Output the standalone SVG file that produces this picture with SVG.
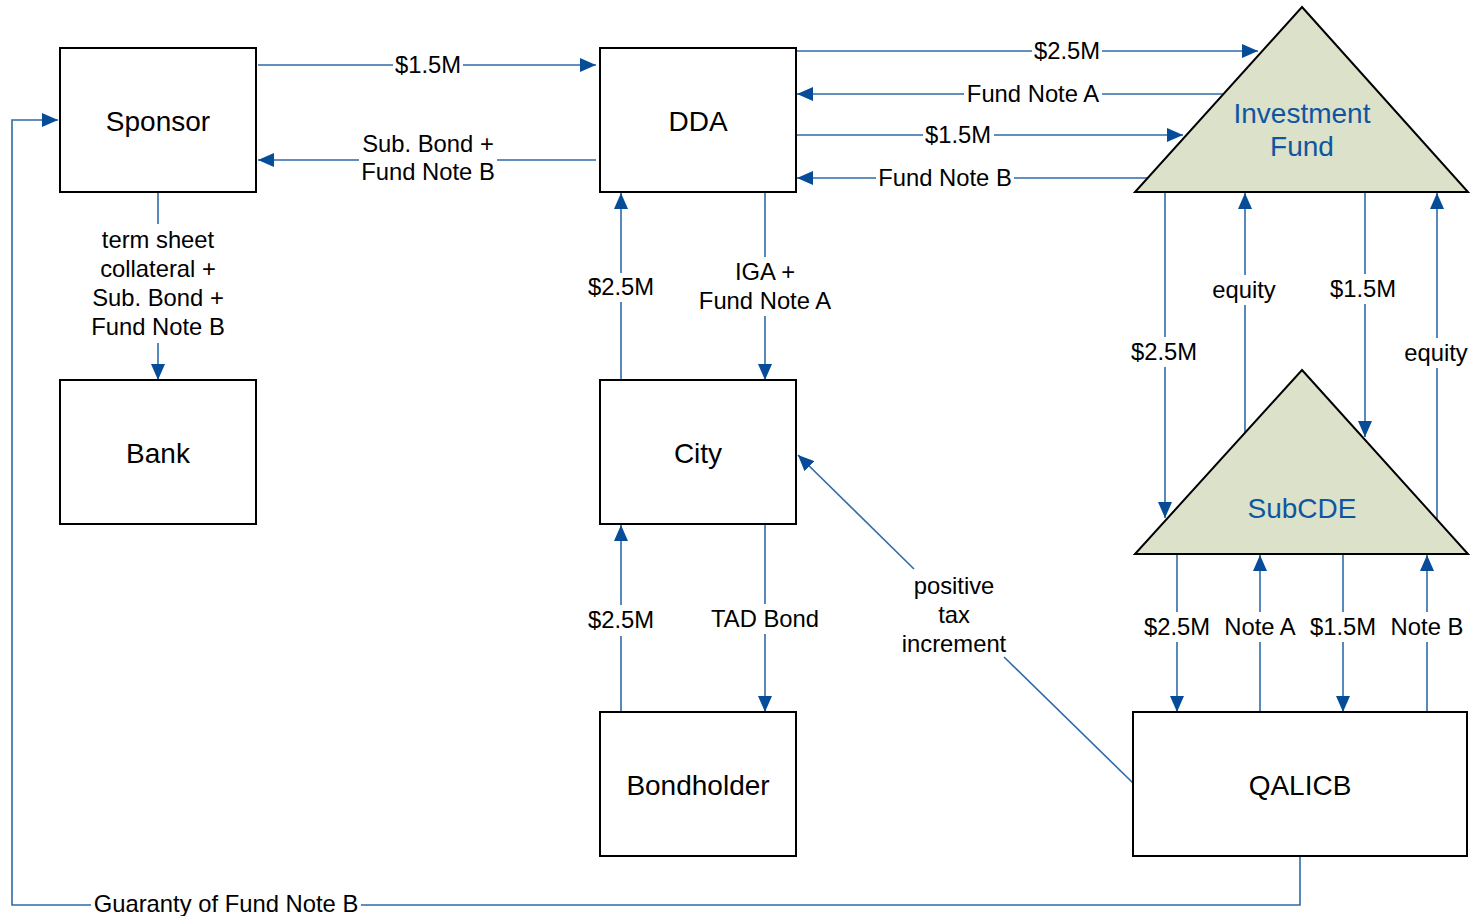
<svg xmlns="http://www.w3.org/2000/svg" width="1476" height="916" viewBox="0 0 1476 916">
<defs>
<style>
.box{fill:#fff;stroke:#000;stroke-width:2}
.tri{fill:#dce1ca;stroke:#000;stroke-width:2;stroke-linejoin:miter}
.nt{font-family:"Liberation Sans",Arial,sans-serif;font-size:28px;fill:#000;text-anchor:middle}
.tt{font-family:"Liberation Sans",Arial,sans-serif;font-size:28px;fill:#0f56a0;text-anchor:middle}
.lb{font-family:"Liberation Sans",Arial,sans-serif;font-size:23.8px;fill:#000;text-anchor:middle}
.c{fill:none;stroke:#2f6aa9;stroke-width:1.6}
.a{marker-end:url(#ah)}
</style>
<marker id="ah" markerUnits="userSpaceOnUse" markerWidth="16" markerHeight="14" refX="16" refY="7" orient="auto">
<path d="M0,0 L16,7 L0,14 z" fill="#064c98"/>
</marker>
</defs>
<rect width="1476" height="916" fill="#fff"/>
<g id="connectors">
<path class="c" d="M258,65 H393"/><path class="c a" d="M463,65 H596"/>
<text class="lb" x="428" y="73">$1.5M</text>
<path class="c" d="M596,160 H497"/><path class="c a" d="M359,160 H258"/>
<text class="lb" x="428" y="152">Sub. Bond +</text>
<text class="lb" x="428" y="180">Fund Note B</text>
<path class="c" d="M797,51 H1032"/><path class="c a" d="M1102,51 H1258"/>
<text class="lb" x="1067" y="59">$2.5M</text>
<path class="c" d="M1223,94 H1102"/><path class="c a" d="M964,94 H797"/>
<text class="lb" x="1033" y="102">Fund Note A</text>
<path class="c" d="M797,135 H923"/><path class="c a" d="M994,135 H1183"/>
<text class="lb" x="958" y="143">$1.5M</text>
<path class="c" d="M1148,178 H1014"/><path class="c a" d="M876,178 H797"/>
<text class="lb" x="945" y="186">Fund Note B</text>
<path class="c" d="M158,193 V224"/><path class="c a" d="M158,343 V380"/>
<text class="lb" x="158" y="248">term sheet</text>
<text class="lb" x="158" y="277">collateral +</text>
<text class="lb" x="158" y="306">Sub. Bond +</text>
<text class="lb" x="158" y="335">Fund Note B</text>
<path class="c" d="M621,380 V302"/><path class="c a" d="M621,273 V193"/>
<text class="lb" x="621" y="295">$2.5M</text>
<path class="c" d="M765,193 V257"/><path class="c a" d="M765,316 V380"/>
<text class="lb" x="765" y="280">IGA +</text>
<text class="lb" x="765" y="309">Fund Note A</text>
<path class="c" d="M621,712 V636"/><path class="c a" d="M621,605 V525"/>
<text class="lb" x="621" y="628">$2.5M</text>
<path class="c" d="M765,525 V604"/><path class="c a" d="M765,634 V712"/>
<text class="lb" x="765" y="627">TAD Bond</text>
<path class="c" d="M1133,783 L1004,657"/><path class="c a" d="M914,569 L798,455"/>
<text class="lb" x="954" y="594">positive</text>
<text class="lb" x="954" y="623">tax</text>
<text class="lb" x="954" y="652">increment</text>
<path class="c" d="M1165,193 V337"/><path class="c a" d="M1165,367 V518"/>
<text class="lb" x="1164" y="360">$2.5M</text>
<path class="c" d="M1245,433 V305"/><path class="c a" d="M1245,275 V193"/>
<text class="lb" x="1244" y="298">equity</text>
<path class="c" d="M1365,193 V274"/><path class="c a" d="M1365,304 V437"/>
<text class="lb" x="1363" y="297">$1.5M</text>
<path class="c" d="M1437,520 V368"/><path class="c a" d="M1437,338 V193"/>
<text class="lb" x="1436" y="361">equity</text>
<path class="c" d="M1177,555 V612"/><path class="c a" d="M1177,642 V712"/>
<text class="lb" x="1177" y="635">$2.5M</text>
<path class="c" d="M1260,712 V642"/><path class="c a" d="M1260,612 V555"/>
<text class="lb" x="1260" y="635">Note A</text>
<path class="c" d="M1343,555 V612"/><path class="c a" d="M1343,642 V712"/>
<text class="lb" x="1343" y="635">$1.5M</text>
<path class="c" d="M1427,712 V642"/><path class="c a" d="M1427,612 V555"/>
<text class="lb" x="1427" y="635">Note B</text>
<path class="c" d="M1300,857 V905 H361"/><path class="c a" d="M91,905 H12 V120 H58"/>
<text class="lb" x="226" y="912">Guaranty of Fund Note B</text>
</g>
<g id="sponsor"><rect class="box" x="60" y="48" width="196" height="144"/><text class="nt" x="158" y="131">Sponsor</text></g>
<g id="dda"><rect class="box" x="600" y="48" width="196" height="144"/><text class="nt" x="698" y="131">DDA</text></g>
<g id="bank"><rect class="box" x="60" y="380" width="196" height="144"/><text class="nt" x="158" y="463">Bank</text></g>
<g id="city"><rect class="box" x="600" y="380" width="196" height="144"/><text class="nt" x="698" y="463">City</text></g>
<g id="bondholder"><rect class="box" x="600" y="712" width="196" height="144"/><text class="nt" x="698" y="795">Bondholder</text></g>
<g id="qalicb"><rect class="box" x="1133" y="712" width="334" height="144"/><text class="nt" x="1300" y="795">QALICB</text></g>
<g id="investment-fund"><polygon class="tri" points="1302,7 1468,192 1135,192"/><text class="tt" x="1302" y="123">Investment</text><text class="tt" x="1302" y="156">Fund</text></g>
<g id="subcde"><polygon class="tri" points="1302,370 1468,554 1135,554"/><text class="tt" x="1302" y="518">SubCDE</text></g>
</svg>
